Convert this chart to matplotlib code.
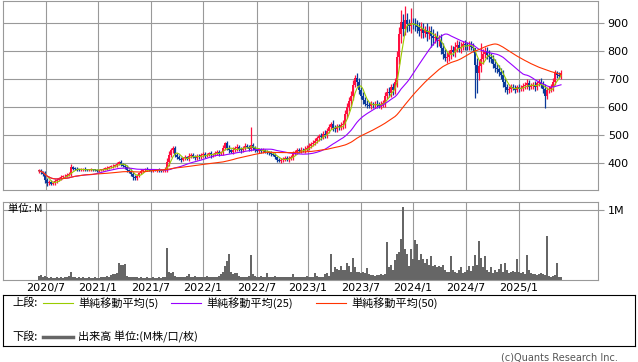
import matplotlib
matplotlib.use('Agg')

import matplotlib.pyplot as plt
import pandas as pd

# weekly closes (one per week from 2020/6 to 2025/6)
closes = [
    372, 368, 360, 340, 328, 332, 325, 330, 335, 340,
    345, 350, 352, 355, 358, 362, 385, 380, 378, 376,
    375, 377, 378, 376, 374, 375, 377, 376, 375, 373,
    375, 376, 378, 380, 382, 385, 388, 390, 392, 398,
    402, 396, 390, 385, 375, 370, 362, 350, 345, 355,
    365, 372, 375, 378, 376, 374, 372, 375, 373, 376,
    374, 372, 375, 380, 405, 430, 445, 452, 430, 422,
    415, 412, 418, 420, 416, 425, 430, 422, 418, 426,
    420, 428, 432, 425, 430, 435, 428, 432, 436, 440,
    434, 438, 455, 470, 455, 445, 440, 448, 452, 458,
    450, 445, 455, 462, 458, 450, 465, 452, 448, 444,
    446, 442, 445, 440, 438, 436, 432, 430, 420, 412,
    408, 410, 415, 418, 414, 416, 420, 435, 440, 445,
    442, 448, 445, 450, 455, 462, 468, 472, 480, 488,
    495, 492, 505, 500, 515, 530, 540, 525, 520, 530,
    528, 535, 540, 575, 600, 620, 640, 680, 705, 690,
    660, 640, 625, 612, 608, 605, 610, 606, 612, 608,
    604, 610, 615, 640, 655, 650, 670, 660, 690, 780,
    860, 905, 880, 910, 895, 890, 900, 895, 892, 885,
    870, 880, 865, 875, 860, 870, 855, 845, 850, 835,
    840, 810, 790, 775, 780, 790, 805, 795, 815, 820,
    810, 815, 825, 820, 818, 822, 815, 810, 750, 720,
    745, 770, 790, 800, 785, 780, 770, 755, 740, 735,
    725, 715, 690, 670, 660, 665, 672, 668, 662, 670,
    665, 668, 675, 680, 685, 672, 675, 680, 670, 685,
    690, 680, 665, 640, 660, 665, 670, 690, 720, 715,
    712, 722,
]

# shadow length beyond the body, per week (price units)
wick = [
    6, 8, 5, 10, 8, 6, 9, 5, 7, 6,
    5, 6, 4, 5, 6, 5, 8, 5, 4, 6,
    3, 5, 4, 6, 3, 4, 5, 3, 4, 5,
    4, 3, 5, 4, 6, 5, 4, 6, 5, 7,
    6, 8, 5, 6, 7, 5, 8, 6, 7, 5,
    4, 5, 3, 4, 6, 3, 4, 5, 3, 4,
    5, 3, 4, 6, 12, 14, 10, 8, 9, 7,
    6, 8, 5, 7, 6, 9, 7, 5, 8, 6,
    5, 7, 6, 8, 5, 6, 9, 5, 7, 6,
    8, 6, 10, 8, 7, 9, 6, 8, 7, 10,
    6, 8, 7, 9, 6, 8, 7, 6, 8, 5,
    7, 6, 8, 5, 7, 6, 8, 6, 7, 5,
    6, 8, 5, 7, 6, 9, 7, 8, 6, 9,
    7, 8, 6, 9, 8, 10, 7, 9, 8, 10,
    9, 11, 8, 12, 10, 9, 8, 12, 10, 9,
    11, 10, 12, 15, 14, 16, 18, 15, 10, 16,
    14, 12, 15, 10, 12, 9, 11, 8, 10, 12,
    9, 11, 10, 14, 12, 15, 13, 16, 14, 20,
    25, 30, 28, 22, 26, 20, 24, 18, 22, 20,
    18, 22, 20, 16, 24, 18, 20, 22, 16, 20,
    18, 22, 20, 16, 18, 15, 17, 14, 16, 18,
    14, 16, 12, 15, 13, 14, 12, 15, 20, 25,
    22, 20, 18, 16, 15, 18, 14, 16, 15, 14,
    15, 16, 18, 14, 12, 10, 11, 9, 12, 10,
    11, 9, 12, 10, 14, 11, 9, 10, 12, 9,
    10, 12, 14, 18, 12, 10, 11, 14, 12, 10,
    9, 11,
]

# long shadows that stick out further
high_marks = {16: 396, 67: 461, 93: 476, 106: 530, 146: 548, 158: 714,
              181: 948, 183: 962, 186: 955, 218: 760, 221: 830, 258: 732}
low_marks = {4: 318, 6: 320, 47: 338, 119: 403, 196: 814, 203: 766,
             218: 632, 219: 650, 233: 652, 253: 596}

# weekly volume, millions
volume = [
    0.06, 0.07, 0.05, 0.06, 0.05, 0.03, 0.04, 0.03, 0.03, 0.04,
    0.03, 0.04, 0.03, 0.04, 0.05, 0.06, 0.11, 0.05, 0.04, 0.03,
    0.04, 0.03, 0.04, 0.03, 0.03, 0.04, 0.03, 0.03, 0.04, 0.03,
    0.03, 0.04, 0.04, 0.05, 0.06, 0.05, 0.07, 0.08, 0.09, 0.10,
    0.25, 0.21, 0.22, 0.23, 0.06, 0.05, 0.04, 0.05, 0.04, 0.04,
    0.03, 0.04, 0.03, 0.03, 0.04, 0.03, 0.03, 0.04, 0.03, 0.03,
    0.04, 0.03, 0.04, 0.05, 0.46, 0.11, 0.10, 0.11, 0.06, 0.05,
    0.04, 0.04, 0.05, 0.04, 0.06, 0.09, 0.05, 0.05, 0.06, 0.05,
    0.04, 0.05, 0.04, 0.05, 0.06, 0.05, 0.04, 0.04, 0.05, 0.04,
    0.06, 0.08, 0.12, 0.20, 0.27, 0.37, 0.12, 0.08, 0.10, 0.10,
    0.06, 0.05, 0.05, 0.04, 0.05, 0.06, 0.36, 0.08, 0.06, 0.05,
    0.05, 0.06, 0.05, 0.05, 0.10, 0.05, 0.04, 0.05, 0.06, 0.05,
    0.04, 0.04, 0.05, 0.04, 0.04, 0.05, 0.05, 0.08, 0.05, 0.04,
    0.05, 0.05, 0.04, 0.05, 0.06, 0.04, 0.05, 0.04, 0.10, 0.06,
    0.05, 0.04, 0.05, 0.08, 0.10, 0.06, 0.37, 0.12, 0.18, 0.16,
    0.15, 0.20, 0.14, 0.15, 0.24, 0.20, 0.12, 0.31, 0.18, 0.12,
    0.11, 0.10, 0.12, 0.10, 0.17, 0.08, 0.07, 0.07, 0.06, 0.07,
    0.07, 0.08, 0.07, 0.09, 0.54, 0.18, 0.22, 0.15, 0.28, 0.37,
    0.40, 0.59, 1.04, 0.45, 0.37, 0.20, 0.45, 0.30, 0.57, 0.52,
    0.28, 0.37, 0.30, 0.25, 0.30, 0.22, 0.34, 0.20, 0.22, 0.18,
    0.20, 0.19, 0.21, 0.15, 0.12, 0.12, 0.34, 0.15, 0.12, 0.10,
    0.14, 0.18, 0.10, 0.12, 0.15, 0.20, 0.13, 0.20, 0.36, 0.22,
    0.56, 0.31, 0.18, 0.35, 0.15, 0.12, 0.18, 0.10, 0.14, 0.12,
    0.16, 0.23, 0.12, 0.24, 0.14, 0.10, 0.12, 0.13, 0.11, 0.30,
    0.12, 0.10, 0.11, 0.09, 0.36, 0.14, 0.10, 0.08, 0.09, 0.07,
    0.08, 0.10, 0.08, 0.07, 0.63, 0.06, 0.05, 0.06, 0.07, 0.24,
    0.05, 0.05,
]

date_labels = ['2020/7', '2021/1', '2021/7', '2022/1', '2022/7',
               '2023/1', '2023/7', '2024/1', '2024/7', '2025/1']
date_pos = [3.5, 29.5, 56, 82, 109, 134.5, 161, 187, 213.5, 240]
price_ticks = [400, 500, 600, 700, 800, 900]

ma_periods = [5, 25, 50]
ma_colors = ['#99cc00', '#9900ff', '#ff3300']
ma_labels = ['単純移動平均(5)', '単純移動平均(25)', '単純移動平均(50)']

UP = '#ff1040'
DOWN = '#0a3a9a'
GRID = '#999999'
CJK = ['Noto Sans CJK JP', 'DejaVu Sans']

df = pd.DataFrame({'close': closes, 'volume': volume, 'wick': wick})
df['open'] = df['close'].shift(1).fillna(df['close'])
df['high'] = df[['open', 'close']].max(axis=1) + df['wick']
df['low'] = df[['open', 'close']].min(axis=1) - df['wick']
for k, v in high_marks.items():
    df.loc[k, 'high'] = v
for k, v in low_marks.items():
    df.loc[k, 'low'] = v
x = df.index.values

W, H = 638, 362
fig = plt.figure(figsize=(W / 100, H / 100), dpi=100)


def px_axes(x0, y0, x1, y1):
    return fig.add_axes([x0 / W, 1 - y1 / H, (x1 - x0) / W, (y1 - y0) / H])


def style(ax):
    for s in ax.spines.values():
        s.set_color(GRID)
        s.set_linewidth(0.8)
    ax.grid(True, color=GRID, linewidth=0.8)
    ax.set_axisbelow(True)


# === price panel ===
ax = px_axes(3, 1, 598, 190)
style(ax)
ax.set_xlim(-18, 279.5)
ax.set_ylim(303.6, 978.6)

up = df['close'] >= df['open']
colors = [UP if u else DOWN for u in up]
ax.vlines(x, df['low'], df['high'], colors=colors, linewidth=0.9, zorder=2)
body = (df['close'] - df['open']).abs().clip(lower=3)
ax.bar(x, body, bottom=df[['open', 'close']].min(axis=1), width=1.0,
       color=colors, linewidth=0, zorder=2)

for p, c in zip(ma_periods, ma_colors):
    ma = df['close'].rolling(p, min_periods=1).mean()
    ax.plot(x, ma, color=c, linewidth=0.8, zorder=3)

ax.set_xticks(date_pos)
ax.set_yticks(price_ticks)
ax.yaxis.tick_right()
ax.tick_params(axis='x', length=0, labelbottom=False)
ax.tick_params(axis='y', length=4, color=GRID, width=0.8, pad=3, labelsize=8)

# === volume panel ===
vax = px_axes(3, 202, 598, 280)
style(vax)
vax.set_xlim(-18, 279.5)
vax.set_ylim(0, 78 / 70)
vax.bar(x, df['volume'], width=0.85, color='#666666', linewidth=0, zorder=2)
vax.set_xticks(date_pos)
vax.set_xticklabels(date_labels)
vax.set_yticks([1.0])
vax.set_yticklabels(['1M'])
vax.yaxis.tick_right()
vax.tick_params(axis='x', length=0, pad=2, labelsize=8)
vax.tick_params(axis='y', length=4, color=GRID, width=0.8, pad=3, labelsize=8)
vax.text(5 / 595, 0.91, '単位: M', transform=vax.transAxes, fontsize=7.5,
         family=CJK, va='center', ha='left', zorder=4)

# === legend box ===
lax = px_axes(3, 295, 635, 346)
lax.set_xlim(3, 635)
lax.set_ylim(346, 295)
lax.set_xticks([])
lax.set_yticks([])
for s in lax.spines.values():
    s.set_color('black')
    s.set_linewidth(0.8)

lax.text(12, 303, '上段:', fontsize=8, family=CJK, va='center')
for x0, c, lab in zip([43, 171, 316], ma_colors, ma_labels):
    lax.plot([x0, x0 + 30], [303, 303], color=c, linewidth=0.8)
    lax.text(x0 + 35, 303, lab, fontsize=8, family=CJK, va='center')
lax.text(12, 337, '下段:', fontsize=8, family=CJK, va='center')
lax.plot([43, 73], [337, 337], color='#666666', linewidth=2.5)
lax.text(78, 337, '出来高 単位:(M株/口/枚)', fontsize=8, family=CJK, va='center')

fig.text(618 / W, 1 - 357 / H, '(c)Quants Research Inc.', fontsize=7,
         color='#555555', ha='right', va='center')

fig.savefig('out.png', dpi=100)
